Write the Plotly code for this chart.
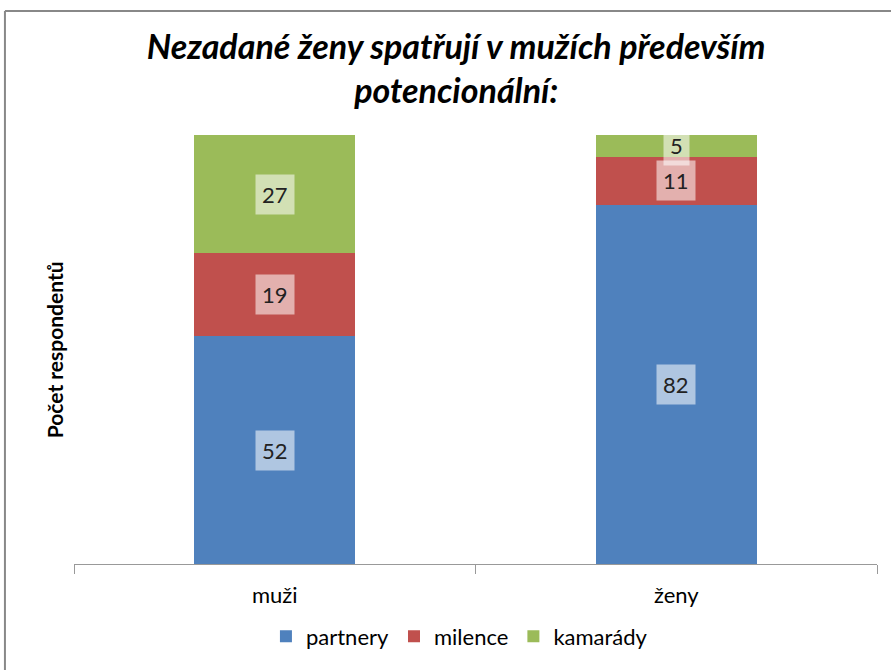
import plotly.graph_objects as go

categories = ["muži", "ženy"]
series_names = ["partnery", "milence", "kamarády"]
partnery = [52, 82]
milence = [19, 11]
kamarady = [27, 5]
colors = ["#4F81BD", "#C0504D", "#9BBB59"]

values = [partnery, milence, kamarady]
FONT = "Lato"

fig = go.Figure()
for name, vals, col in zip(series_names, values, colors):
    fig.add_trace(go.Bar(x=categories, y=vals, name=name, marker_color=col,
                         marker_line_width=0))

# labels with translucent boxes at segment centres (computed from data)
annotations = []
for ci, cat in enumerate(categories):
    total = sum(v[ci] for v in values)
    cum = 0
    for vals in values:
        pct = vals[ci] / total * 100
        annotations.append(dict(x=cat, y=cum + pct / 2, xref="x", yref="y",
                                text=str(vals[ci]), showarrow=False,
                                bgcolor="rgba(255,255,255,0.55)", borderpad=6,
                                font=dict(family=FONT, size=22, color="#222")))
        cum += pct

annotations.append(dict(x=-0.024, y=0.5, xref="paper", yref="paper",
                        xanchor="center", yanchor="middle",
                        text="<b>Počet respondentů</b>", textangle=-90,
                        showarrow=False, font=dict(family=FONT, size=21, color="black")))

fig.update_layout(
    barmode="stack", barnorm="percent", bargap=0.6,
    width=891, height=670,
    margin=dict(l=74, r=14, t=135, b=103),
    plot_bgcolor="white", paper_bgcolor="white",
    title=dict(text="<b><i>Nezadané ženy spatřují v mužích především<br>potencionální:</i></b>",
               x=0.512, xanchor="center", y=0.912, yanchor="middle",
               font=dict(family=FONT, size=34, color="black")),
    legend=dict(orientation="h", x=0.48, xanchor="center", y=-0.169, yanchor="middle",
                font=dict(family=FONT, size=22, color="black"), traceorder="normal"),
    annotations=annotations,
    xaxis=dict(showline=True, linecolor="#999", linewidth=1, ticks="outside",
               tickson="boundaries", ticklen=9, tickcolor="#999",
               ticklabelstandoff=12,
               tickfont=dict(family=FONT, size=22, color="black")),
    yaxis=dict(range=[0, 100], showticklabels=False, showgrid=False,
               zeroline=False, showline=False),
    shapes=[
        dict(type="line", xref="paper", yref="paper", x0=-0.086, x1=1.1,
             y0=1.289, y1=1.289, line=dict(color="#888", width=2)),
        dict(type="line", xref="paper", yref="paper", x0=-0.086, x1=-0.086,
             y0=1.289, y1=-0.3, line=dict(color="#888", width=2)),
    ],
)

fig.write_html("out.html", config={"displayModeBar": False},
               post_script="document.body.style.margin='0';")
